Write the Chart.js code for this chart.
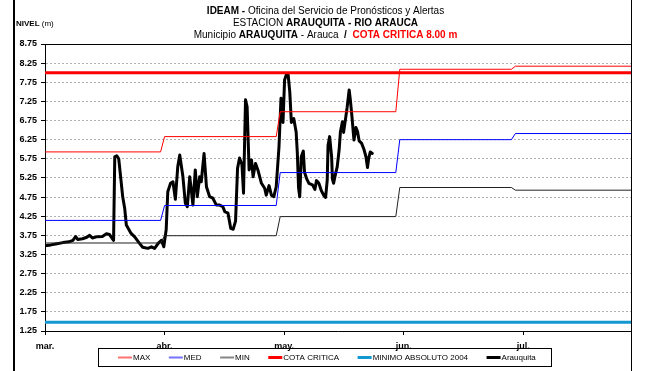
<!DOCTYPE html>
<html>
<head>
<meta charset="utf-8">
<title>Nivel Arauquita</title>
<script src="https://cdn.jsdelivr.net/npm/chart.js@4.4.1/dist/chart.umd.min.js"></script>
<style>
  body { margin: 0; background: #fff; }
  #grafica { display: block; }
</style>
</head>
<body>
<canvas id="grafica" width="645" height="371"></canvas>
<script>
// eje X: dias contados desde el 1 de marzo
var meses = ['mar.', 'abr.', 'may.', 'jun.', 'jul.'];
var inicioMes = [0, 30, 60, 90, 120];
var diaFinal = 147;

// eje Y
var marcasNivel = [1.25, 1.75, 2.25, 2.75, 3.25, 3.75, 4.25, 4.75, 5.25, 5.75, 6.25, 6.75, 7.25, 7.75, 8.25, 8.75];

// valores mensuales historicos (un escalon por mes)
var tramoIni = [0, 30, 59, 89, 118];
var tramoFin = [29, 58, 88, 117, 147];
var nivelMax = [5.93, 6.33, 6.98, 8.09, 8.17];
var nivelMed = [4.14, 4.53, 5.39, 6.25, 6.41];
var nivelMin = [3.55, 3.74, 4.24, 5.00, 4.93];
var cotaCritica = 8.00;
var minimoAbs2004 = 1.48;

// lecturas de la estacion Arauquita
var diasAr = [0.0, 1.5, 3.0, 4.5, 6.0, 7.0, 7.7, 8.2, 9.4, 10.5, 11.2, 11.9, 12.9, 14.4, 15.4, 16.2, 16.9, 17.2,
  17.5, 18.0, 18.5, 19.0, 19.5, 20.0, 20.4, 21.6, 22.5, 23.7, 24.5, 25.8, 26.7, 27.5, 28.4, 29.2, 29.8, 30.4, 30.8,
  31.5, 32.1, 32.7, 33.3, 33.8, 34.6, 35.2, 35.7, 36.3, 36.7, 37.1, 37.7, 38.2, 38.8, 39.2, 39.9, 40.5, 41.3, 42.1,
  43.0, 43.8, 44.6, 45.1, 45.9, 46.6, 47.2, 47.8, 48.3, 48.8, 49.4, 49.8, 50.3, 50.7, 51.2, 51.8, 52.2, 52.8, 53.4,
  54.3, 55.1, 55.5, 56.2, 56.8, 57.4, 58.0, 58.7, 59.2, 59.7, 60.1, 60.6, 61.0, 61.4, 61.8, 62.4, 63.0, 63.3, 63.6,
  63.9, 64.3, 64.8, 65.1, 65.6, 66.2, 67.1, 67.7, 68.1, 68.7, 69.3, 69.9, 70.4, 70.8, 71.0, 71.4, 71.9, 72.1, 72.4,
  72.9, 73.3, 73.8, 74.1, 74.6, 74.9, 75.4, 75.8, 76.3, 76.6, 77.0, 77.5, 78.0, 78.4, 78.8, 79.4, 80.0, 80.5, 80.9,
  81.2, 81.6, 82.1];
var nivelAr = [3.48, 3.50, 3.53, 3.56, 3.58, 3.62, 3.72, 3.64, 3.66, 3.70, 3.75, 3.68, 3.71, 3.72, 3.79, 3.77, 3.66, 3.62,
  5.80, 5.83, 5.75, 5.25, 4.75, 4.45, 4.02, 3.80, 3.71, 3.54, 3.44, 3.41, 3.45, 3.41, 3.54, 3.62, 3.45, 3.90, 4.89,
  5.11, 5.15, 4.69, 5.54, 5.85, 5.28, 4.59, 4.50, 5.28, 4.94, 4.54, 5.46, 4.76, 5.28, 5.15, 5.89, 5.02, 4.76, 4.72,
  4.54, 4.54, 4.50, 4.37, 4.33, 3.93, 3.91, 4.12, 5.50, 5.77, 5.60, 4.85, 7.29, 7.11, 5.46, 5.72, 5.28, 5.63, 5.46,
  5.11, 4.98, 4.80, 5.05, 4.80, 4.76, 5.02, 6.07, 7.33, 6.70, 7.81, 7.97, 7.94, 7.50, 6.70, 6.80, 6.45, 5.90, 5.00,
  4.76, 5.81, 5.95, 5.40, 5.24, 5.11, 5.07, 4.95, 5.18, 5.11, 4.92, 4.80, 4.74, 5.20, 6.10, 6.33, 5.80, 5.22, 5.11,
  5.37, 5.54, 6.00, 6.45, 6.72, 6.44, 6.80, 7.10, 7.55, 7.29, 6.85, 6.24, 6.57, 6.46, 6.22, 6.16, 6.00, 5.81, 5.52,
  5.76, 5.93, 5.89];

function escalones(valores) {
  var pts = [];
  for (var i = 0; i < valores.length; i++) {
    pts.push({ x: tramoIni[i], y: valores[i] });
    pts.push({ x: tramoFin[i], y: valores[i] });
  }
  return pts;
}

function horizontal(valor) {
  return [{ x: 0, y: valor }, { x: diaFinal, y: valor }];
}

var serieAr = diasAr.map(function (d, i) { return { x: d, y: nivelAr[i] }; });

var FUENTE = "'Liberation Sans', Arial, sans-serif";
Chart.defaults.font.family = FUENTE;
Chart.defaults.color = '#000';

var titulo = [
  [['IDEAM - ', 'bold', '#000'], ['Oficina del Servicio de Pronósticos y Alertas', '', '#000']],
  [['ESTACION ', '', '#000'], ['ARAUQUITA - RIO ARAUCA', 'bold', '#000']],
  [['Municipio ', '', '#000'], ['ARAUQUITA', 'bold', '#000'], [' - Arauca  ', '', '#000'],
   ['/  ', 'bold', '#000'], ['COTA CRITICA 8.00 m', 'bold', '#ff0000']]
];

function textoMixto(ctx, partes, cx, y, size) {
  var total = 0;
  partes.forEach(function (p) {
    ctx.font = (p[1] ? p[1] + ' ' : '') + size + 'px ' + FUENTE;
    total += ctx.measureText(p[0]).width;
  });
  var x = cx - total / 2;
  partes.forEach(function (p) {
    ctx.font = (p[1] ? p[1] + ' ' : '') + size + 'px ' + FUENTE;
    ctx.fillStyle = p[2];
    ctx.fillText(p[0], x, y);
    x += ctx.measureText(p[0]).width;
  });
}

var marco = {
  id: 'marco',
  beforeDraw: function (chart) {
    var ctx = chart.ctx;
    ctx.save();
    ctx.fillStyle = '#fff';
    ctx.fillRect(0, 0, chart.width, chart.height);
    ctx.restore();
  },
  afterDraw: function (chart) {
    var ctx = chart.ctx;
    var a = chart.chartArea;
    ctx.save();
    // recuadro exterior y borde superior del area
    ctx.strokeStyle = '#000';
    ctx.lineWidth = 2;
    ctx.beginPath();
    ctx.moveTo(14, 0); ctx.lineTo(14, chart.height);
    ctx.stroke();
    ctx.lineWidth = 1;
    ctx.beginPath();
    ctx.moveTo(Math.round(a.right) + 0.5, 0); ctx.lineTo(Math.round(a.right) + 0.5, chart.height);
    ctx.moveTo(a.left, Math.round(a.top) + 0.5); ctx.lineTo(a.right, Math.round(a.top) + 0.5);
    ctx.stroke();

    // titulo
    ctx.textBaseline = 'middle';
    ctx.textAlign = 'left';
    var cx = (14 + a.right) / 2 + 3;
    textoMixto(ctx, titulo[0], cx, 11, 10);
    textoMixto(ctx, titulo[1], cx, 23, 10);
    textoMixto(ctx, titulo[2], cx, 35, 10);

    // unidad del eje
    ctx.fillStyle = '#000';
    ctx.font = 'bold 8px ' + FUENTE;
    ctx.fillText('NIVEL', 16, 24);
    var w = ctx.measureText('NIVEL').width;
    ctx.font = '8px ' + FUENTE;
    ctx.fillText(' (m)', 16 + w, 24);

    // leyenda
    var bx = 98, by = 348, bw = 453, bh = 18;
    ctx.lineWidth = 1;
    ctx.strokeStyle = '#000';
    ctx.strokeRect(bx + 0.5, by + 0.5, bw, bh);
    var yl = by + bh / 2 + 0.5;
    var x = bx + 20;
    ctx.font = '8px ' + FUENTE;
    chart.data.datasets.forEach(function (ds) {
      ctx.strokeStyle = ds.borderColor;
      ctx.globalAlpha = ds.borderWidth > 1 ? 1 : 0.55;
      ctx.lineWidth = ds.borderWidth > 1 ? ds.borderWidth : 2;
      ctx.beginPath();
      ctx.moveTo(x, yl); ctx.lineTo(x + 14, yl);
      ctx.stroke();
      ctx.globalAlpha = 1;
      x += 15;
      ctx.fillStyle = '#000';
      ctx.fillText(ds.label, x, yl);
      x += ctx.measureText(ds.label).width + 18.5;
    });
    ctx.restore();
  }
};

new Chart(document.getElementById('grafica'), {
  type: 'line',
  data: {
    datasets: [
      { label: 'MAX', data: escalones(nivelMax), borderColor: '#ff0000', borderWidth: 1 },
      { label: 'MED', data: escalones(nivelMed), borderColor: '#0000ff', borderWidth: 1 },
      { label: 'MIN', data: escalones(nivelMin), borderColor: '#222222', borderWidth: 1 },
      { label: 'COTA CRITICA', data: horizontal(cotaCritica), borderColor: '#ff0000', borderWidth: 3 },
      { label: 'MINIMO ABSOLUTO 2004', data: horizontal(minimoAbs2004), borderColor: '#1399d2', borderWidth: 3 },
      { label: 'Arauquita', data: serieAr, borderColor: '#000000', borderWidth: 3, borderJoinStyle: 'round', borderCapStyle: 'round' }
    ]
  },
  plugins: [marco],
  options: {
    responsive: false,
    animation: false,
    elements: { point: { radius: 0 }, line: { tension: 0 } },
    layout: { padding: { top: 44, right: 14, left: 0, bottom: 0 } },
    plugins: { legend: { display: false }, title: { display: false }, tooltip: { enabled: false } },
    scales: {
      x: {
        type: 'linear',
        min: 0,
        max: diaFinal,
        afterBuildTicks: function (scale) {
          scale.ticks = inicioMes.map(function (v) { return { value: v }; });
        },
        afterFit: function (scale) { scale.height = 40; },
        ticks: {
          autoSkip: false,
          maxRotation: 0,
          padding: 6,
          font: { size: 9, weight: 'bold' },
          callback: function (value) { return meses[inicioMes.indexOf(value)]; }
        },
        grid: { drawOnChartArea: false, tickLength: 4, tickColor: '#000' },
        border: { color: '#000', width: 1 }
      },
      y: {
        min: 1.25,
        max: 8.75,
        afterBuildTicks: function (scale) {
          scale.ticks = marcasNivel.map(function (v) { return { value: v }; });
        },
        afterFit: function (scale) { scale.width = 45; },
        ticks: {
          padding: 4,
          font: { size: 9, weight: 'bold' },
          callback: function (value) { return value.toFixed(2); }
        },
        grid: { color: '#b0b0b0', tickLength: 4, tickColor: '#000', tickBorderDash: [], borderDash: [2, 2] },
        border: { color: '#000', width: 1, dash: [2, 2] }
      }
    }
  }
});
</script>
</body>
</html>
